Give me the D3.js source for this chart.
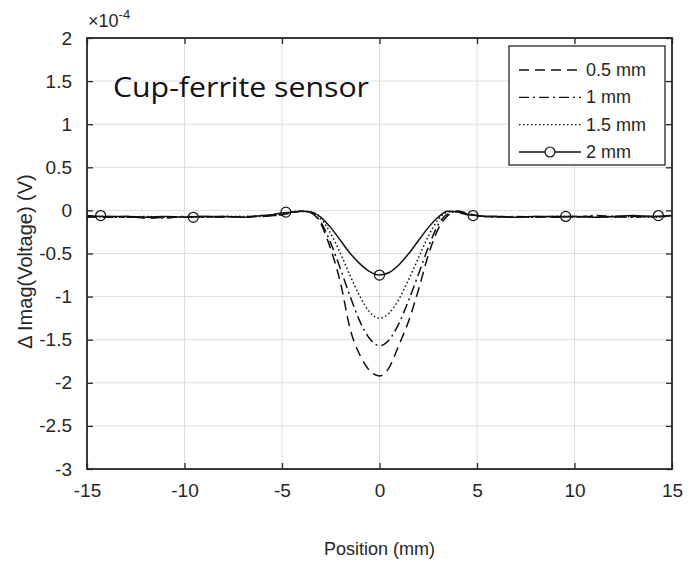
<!DOCTYPE html>
<html>
<head>
<meta charset="utf-8">
<script src="https://cdn.jsdelivr.net/npm/d3@7"></script>
<style>
  html, body { margin: 0; padding: 0; background: #fff; }
  svg { display: block; }
  text { font-family: "Liberation Sans", Arial, sans-serif; fill: #262626; }
</style>
</head>
<body>
<svg id="chart" width="688" height="565"></svg>
<script>
// ---- Data (values in units of 1e-4 V) ----
const positions = [-15,-14,-13,-12,-11,-10,-9,-8,-7,-6,-5.5,-5,-4.5,-4,-3.5,-3,-2.5,-2,-1.5,-1,-0.5,0,0.5,1,1.5,2,2.5,3,3.5,4,4.5,5,5.5,6,7,8,9,10,11,12,13,14,15];
const series05 = [-0.07,-0.08,-0.07,-0.09,-0.08,-0.08,-0.07,-0.08,-0.07,-0.07,-0.06,-0.05,-0.03,-0.01,-0.03,-0.16,-0.45,-0.84,-1.38,-1.68,-1.86,-1.92,-1.82,-1.56,-1.28,-0.92,-0.52,-0.22,-0.06,-0.01,-0.03,-0.06,-0.07,-0.07,-0.08,-0.07,-0.08,-0.07,-0.07,-0.08,-0.07,-0.07,-0.06];
const series10 = [-0.08,-0.07,-0.08,-0.08,-0.09,-0.07,-0.08,-0.07,-0.08,-0.06,-0.06,-0.05,-0.02,-0.01,-0.02,-0.14,-0.38,-0.68,-1.00,-1.29,-1.49,-1.57,-1.50,-1.31,-1.04,-0.74,-0.43,-0.17,-0.04,-0.01,-0.04,-0.06,-0.07,-0.08,-0.07,-0.08,-0.07,-0.08,-0.06,-0.07,-0.08,-0.07,-0.07];
const series15 = [-0.06,-0.08,-0.08,-0.07,-0.08,-0.08,-0.08,-0.07,-0.07,-0.07,-0.05,-0.04,-0.02,-0.01,-0.02,-0.10,-0.27,-0.50,-0.76,-1.00,-1.18,-1.25,-1.19,-1.03,-0.80,-0.55,-0.30,-0.11,-0.02,-0.01,-0.04,-0.06,-0.07,-0.07,-0.08,-0.08,-0.07,-0.07,-0.08,-0.07,-0.07,-0.08,-0.06];
const series20 = [-0.06,-0.07,-0.07,-0.08,-0.07,-0.08,-0.07,-0.07,-0.08,-0.06,-0.05,-0.03,-0.02,-0.01,-0.02,-0.08,-0.20,-0.35,-0.50,-0.62,-0.71,-0.75,-0.72,-0.63,-0.50,-0.35,-0.20,-0.08,-0.01,-0.02,-0.05,-0.06,-0.07,-0.07,-0.08,-0.07,-0.07,-0.07,-0.08,-0.07,-0.06,-0.07,-0.06];
const markerX20 = [-14.3,-9.55,-4.8,0,4.8,9.55,14.3];
const markerY20 = [-0.06,-0.08,-0.02,-0.75,-0.06,-0.07,-0.06];
const seriesNames = ["0.5 mm","1 mm","1.5 mm","2 mm"];
const xTicks = [-15,-10,-5,0,5,10,15];
const yTicks = [2,1.5,1,0.5,0,-0.5,-1,-1.5,-2,-2.5,-3];

// ---- Layout ----
const L = 87, R = 672, T = 38, B = 469;
const svg = d3.select("#chart");
const x = d3.scaleLinear().domain([-15, 15]).range([L, R]);
const y = d3.scaleLinear().domain([-3, 2]).range([B, T]);
const ink = "#262626";

// grid
svg.append("g").selectAll("line").data(xTicks).join("line")
  .attr("x1", d => x(d)).attr("x2", d => x(d)).attr("y1", T).attr("y2", B)
  .attr("stroke", "#dedede").attr("stroke-width", 1);
svg.append("g").selectAll("line").data(yTicks).join("line")
  .attr("y1", d => y(d)).attr("y2", d => y(d)).attr("x1", L).attr("x2", R)
  .attr("stroke", "#dedede").attr("stroke-width", 1);

// axes
const xAxisB = d3.axisBottom(x).tickValues(xTicks).tickSizeInner(-6).tickSizeOuter(0).tickPadding(15).tickFormat(d => String(d));
const xAxisT = d3.axisTop(x).tickValues(xTicks).tickSizeInner(-6).tickSizeOuter(0).tickFormat("");
const yAxisL = d3.axisLeft(y).tickValues(yTicks).tickSizeInner(-6).tickSizeOuter(0).tickPadding(15).tickFormat(d => String(d));
const yAxisR = d3.axisRight(y).tickValues(yTicks).tickSizeInner(-6).tickSizeOuter(0).tickFormat("");

function styleAxis(g) {
  g.select(".domain").remove();
  g.selectAll(".tick line").attr("stroke", ink).attr("stroke-width", 1.3);
  g.selectAll(".tick text").style("font-size", "19px").style("fill", ink).attr("font-family", "Liberation Sans, Arial, sans-serif");
}
svg.append("g").attr("transform", `translate(0,${B})`).call(xAxisB).call(styleAxis);
svg.append("g").attr("transform", `translate(0,${T})`).call(xAxisT).call(styleAxis);
svg.append("g").attr("transform", `translate(${L},0)`).call(yAxisL).call(styleAxis);
svg.append("g").attr("transform", `translate(${R},0)`).call(yAxisR).call(styleAxis);

// lines
const seriesList = [series05, series10, series15, series20];
const dashes = ["10,6", "10,4,2,4", "1.5,2.5", null];
const line = d3.line().x(d => x(d[0])).y(d => y(d[1])).curve(d3.curveMonotoneX);
const plot = svg.append("g");
seriesList.forEach((s, i) => {
  const pts = positions.map((p, j) => [p, s[j]]);
  plot.append("path").datum(pts).attr("d", line)
    .attr("fill", "none").attr("stroke", "#111").attr("stroke-width", 1.5)
    .attr("stroke-dasharray", dashes[i]);
});
plot.selectAll("circle").data(markerX20.map((m, i) => [m, markerY20[i]])).join("circle")
  .attr("cx", d => x(d[0])).attr("cy", d => y(d[1])).attr("r", 5)
  .attr("fill", "none").attr("stroke", "#111").attr("stroke-width", 1.2);

// frame
svg.append("rect").attr("x", L).attr("y", T).attr("width", R - L).attr("height", B - T)
  .attr("fill", "none").attr("stroke", ink).attr("stroke-width", 1.8);

// exponent
const ex = svg.append("text").attr("x", L + 1).attr("y", T - 11).style("font-size", "18px");
ex.append("tspan").text("\u00d710");
ex.append("tspan").attr("dy", -8).style("font-size", "13px").text("-4");

// axis labels
svg.append("text").attr("x", (L + R) / 2).attr("y", 555).attr("text-anchor", "middle")
  .style("font-size", "18px").text("Position (mm)");
svg.append("text").attr("transform", `translate(32,${(T + B) / 2 + 8}) rotate(-90)`).attr("text-anchor", "middle")
  .style("font-size", "20px").text("\u0394 Imag(Voltage) (V)");

// title annotation
svg.append("text").attr("x", 113).attr("y", 97)
  .style("font-family", "'Open Sans', 'Noto Sans', sans-serif").style("font-size", "28px").style("fill", "#111")
  .attr("textLength", 256).attr("lengthAdjust", "spacingAndGlyphs")
  .text("Cup-ferrite sensor");

// legend
const lg = svg.append("g");
lg.append("rect").attr("x", 509).attr("y", 46).attr("width", 156).attr("height", 119)
  .attr("fill", "#fff").attr("stroke", ink).attr("stroke-width", 1.3);
const ly = d3.scalePoint().domain(seriesNames).range([70, 152]);
seriesNames.forEach((n, i) => {
  lg.append("line").attr("x1", 519).attr("x2", 581).attr("y1", ly(n)).attr("y2", ly(n))
    .attr("stroke", "#111").attr("stroke-width", 1.4).attr("stroke-dasharray", dashes[i]);
  if (i === 3) {
    lg.append("circle").attr("cx", 550).attr("cy", ly(n)).attr("r", 5)
      .attr("fill", "#fff").attr("stroke", "#111").attr("stroke-width", 1.2);
  }
  lg.append("text").attr("x", 586).attr("y", ly(n) + 6).style("font-size", "18px").text(n);
});
</script>
</body>
</html>
